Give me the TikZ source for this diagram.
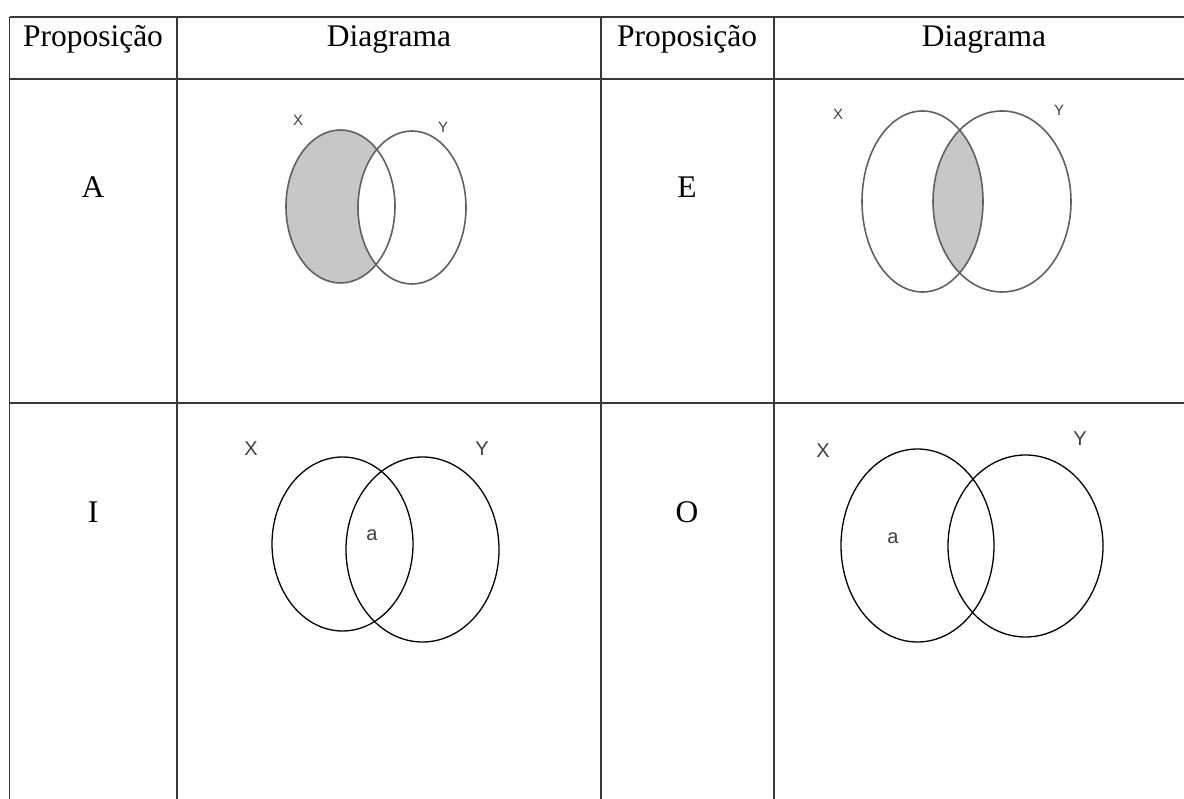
\documentclass[tikz,border=0pt]{standalone}
\usepackage{fontspec}
\setmainfont{Liberation Serif}
\newfontfamily\labfont{Liberation Sans}
\begin{document}
\begin{tikzpicture}[x=1pt,y=-1pt,
  grid/.style={draw=black!78,line width=1.8pt},
  head/.style={font=\fontsize{31.5}{36}\selectfont,anchor=base,inner sep=0pt},
  vlab/.style={font=\labfont\fontsize{#1}{#1}\selectfont,text=black!75,inner sep=0pt},
  vlab/.default=15,
  softring/.style={draw=black!62,line width=1.6pt},
  hardring/.style={draw=black,line width=1.3pt},
  shade/.style={fill=black!22}]
\useasboundingbox (0,0) rectangle (1184,799);
% table grid
\coordinate (t0) at (9.5,17);
\draw[grid] (9.5,17) -- (1190,17);
\draw[grid] (9.5,79) -- (1190,79);
\draw[grid] (9.5,403) -- (1190,403);
\foreach \x in {9.5,177,601,774} \draw[grid] (\x,17) -- (\x,805);
% headers
\node[head] (h1) at (93,47) {Proposição};
\node[head] (h2) at (389,47) {Diagrama};
\node[head] (h3) at (687,47) {Proposição};
\node[head] (h4) at (984,47) {Diagrama};
% row labels
\node[head] (pA) at (93,198) {A};
\node[head] (pE) at (687,198) {E};
\node[head] (pI) at (93,522) {I};
\node[head] (pO) at (687,522) {O};
% A diagram
\fill[shade] (340.5,206.5) ellipse [x radius=54.5pt, y radius=76.5pt];
\fill[white] (412,207.5) ellipse [x radius=54pt, y radius=76.5pt];
\draw[softring] (340.5,206.5) ellipse [x radius=54.5pt, y radius=76.5pt];
\draw[softring] (412,207.5) ellipse [x radius=54pt, y radius=76.5pt];
\node[vlab] (aX) at (298,120) {X};
\node[vlab] (aY) at (443,127) {Y};
% E diagram
\begin{scope}
\clip (922.5,201.5) ellipse [x radius=60.5pt, y radius=90.5pt];
\fill[shade] (1002,201.5) ellipse [x radius=69pt, y radius=90.5pt];
\end{scope}
\draw[softring] (922.5,201.5) ellipse [x radius=60.5pt, y radius=90.5pt];
\draw[softring] (1002,201.5) ellipse [x radius=69pt, y radius=90.5pt];
\node[vlab] (eX) at (838,114) {X};
\node[vlab] (eY) at (1059,110) {Y};
% I diagram
\draw[hardring] (342.5,544) ellipse [x radius=70.5pt, y radius=87pt];
\draw[hardring] (422.5,549.5) ellipse [x radius=76.5pt, y radius=92.5pt];
\node[vlab=20] (iX) at (251,449) {X};
\node[vlab=20] (iY) at (482,449) {Y};
\node[vlab=20] (ia) at (372,535) {a};
% O diagram
\draw[hardring] (917.5,545.5) ellipse [x radius=76.5pt, y radius=96.5pt];
\draw[hardring] (1025.5,546) ellipse [x radius=77.5pt, y radius=91pt];
\node[vlab=20] (oX) at (823,451) {X};
\node[vlab=20] (oY) at (1080,439) {Y};
\node[vlab=20] (oa) at (893,538) {a};
\end{tikzpicture}
\end{document}
